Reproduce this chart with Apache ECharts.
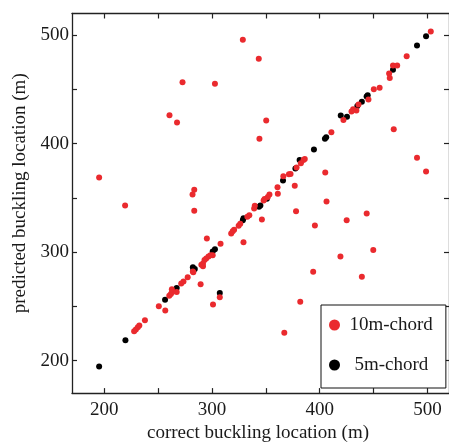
<!DOCTYPE html>
<html><head><meta charset="utf-8">
<script src="https://cdn.jsdelivr.net/npm/echarts@6/dist/echarts.min.js"></script>
<style>html,body{margin:0;padding:0;background:#fff}#c{width:449px;height:448px}</style>
</head><body><div id="c"></div>
<script>
const axisTicks = [200, 250, 300, 350, 400, 450, 500];
const axisLabels = [200, 300, 400, 500];
const seriesNames = ['10m-chord', '5m-chord'];

const chord10X = [272.6, 302.7, 260.5, 267.5, 195.2, 219.3, 283.5, 281.9, 283.5, 328.6, 343.4, 350.3, 344.0, 468.7, 490.3, 498.7, 405.1, 406.3, 443.6, 425.0, 395.5, 449.7, 419.2, 439.1, 393.9, 381.9, 367.1, 307.2, 300.9, 289.4, 256.6, 376.8, 378.0, 361.1, 346.3, 329.2, 307.9, 295.2,
  503.1, 480.7, 468.0, 471.9, 464.4, 465.0, 455.6, 450.2, 445.2, 436.0, 434.0, 431.0, 429.5, 422.0, 410.8,
  386.1, 384.9, 382.5, 378.5, 371.4, 372.9, 366.2, 360.8, 353.3, 351.8, 348.8, 347.9, 339.7, 339.1, 334.6, 332.8, 326.2, 324.7, 320.5, 319.2, 317.8,
  300.6, 298.5, 296.7, 294.6, 293.0, 291.6, 290.1, 291.6, 282.6, 282.2,
  277.4, 273.5, 271.4, 267.2, 260.3, 261.8, 263.0, 262.7, 250.6, 237.7, 227.7, 229.3, 231.1, 232.5];
const chord10Y = [456.5, 455.2, 426.2, 419.4, 368.7, 343.0, 357.5, 353.0, 338.2, 495.9, 478.2, 421.4, 404.5, 413.3, 387.1, 374.4, 373.5, 346.6, 335.5, 329.4, 324.6, 302.0, 295.9, 277.3, 282.0, 254.3, 225.7, 258.3, 251.6, 270.3, 246.2, 361.1, 337.6, 353.8, 330.0, 309.0, 307.7, 312.6,
  503.5, 480.5, 472.1, 472.1, 464.6, 460.6, 451.6, 450.1, 440.7, 436.2, 430.5, 431.7, 429.6, 421.7, 410.6,
  385.9, 385.0, 381.9, 378.0, 371.7, 372.0, 369.9, 359.9, 353.2, 350.9, 349.0, 347.5, 342.7, 340.3, 333.9, 332.5, 326.2, 324.3, 320.7, 319.2, 317.1,
  297.2, 297.2, 295.9, 294.1, 292.7, 289.6, 288.4, 286.9, 281.4, 282.1,
  276.9, 273.0, 271.0, 263.3, 259.7, 261.3, 263.3, 265.8, 250.1, 237.1, 227.1, 228.7, 230.8, 232.3];

const chord5X = [498.7, 490.3, 468.0, 444.5, 443.5, 439.1, 434.9, 425.3, 419.5, 406.0, 404.8, 394.6, 381.3, 377.4, 365.9, 350.9, 344.9, 343.6, 329.2, 328.6, 302.7, 300.6, 307.2, 282.6, 284.0, 282.2, 267.2, 256.4, 219.6, 195.2];
const chord5Y = [499.0, 490.5, 468.2, 444.7, 443.5, 438.6, 434.7, 424.8, 426.0, 406.0, 404.5, 394.6, 385.0, 377.1, 366.0, 349.3, 343.0, 341.8, 331.2, 329.4, 302.6, 300.5, 262.2, 283.0, 284.5, 286.0, 267.0, 256.1, 218.7, 194.6];

const FONT = 'Liberation Serif';
const INK = '#1a1a1a';
const pairs = (xs, ys) => xs.map((x, i) => [x, ys[i]]);

const chart = echarts.init(document.getElementById('c'), null, {renderer: 'canvas'});
const axisLineStyle = {show: true, lineStyle: {color: '#222', width: 1.3}};
const tickStyle = {show: true, inside: true, length: 5, customValues: axisTicks, lineStyle: {color: '#222', width: 1.2}};
chart.setOption({
  animation: false,
  backgroundColor: '#fff',
  grid: {left: 72, top: 13.5, width: 387, height: 387},
  xAxis: [
    {type: 'value', position: 'bottom', min: 170, max: 520,
     axisLine: axisLineStyle, axisTick: tickStyle, splitLine: {show: false},
     axisLabel: {customValues: axisLabels, margin: 7, fontFamily: FONT, fontSize: 19, color: INK},
     name: 'correct buckling location (m)', nameLocation: 'middle', nameGap: 28,
     nameTextStyle: {fontFamily: FONT, fontSize: 19, color: INK, padding: [0, 5, 0, 0]}},
    {type: 'value', position: 'top', min: 170, max: 520,
     axisLine: axisLineStyle, axisTick: tickStyle, splitLine: {show: false},
     axisLabel: {show: false}}
  ],
  yAxis: [
    {type: 'value', position: 'left', min: 170, max: 520,
     axisLine: axisLineStyle, axisTick: tickStyle, splitLine: {show: false},
     axisLabel: {customValues: axisLabels, margin: 3, fontFamily: FONT, fontSize: 19, color: INK},
     name: 'predicted buckling location (m)', nameLocation: 'middle', nameGap: 36,
     nameTextStyle: {fontFamily: FONT, fontSize: 19, color: INK, padding: [0, 0, 0, 20]}},
    {type: 'value', position: 'right', min: 170, max: 520,
     axisLine: axisLineStyle, axisTick: tickStyle, splitLine: {show: false},
     axisLabel: {show: false}}
  ],
  legend: {
    left: 321, top: 305, orient: 'vertical', icon: 'circle',
    padding: [10, 13, 13, 8], itemWidth: 20, itemHeight: 11, itemGap: 20,
    borderColor: '#111', borderWidth: 1, backgroundColor: '#fff',
    textStyle: {fontFamily: FONT, fontSize: 19, color: INK, lineHeight: 20},
    data: [{name: seriesNames[0]}, {name: seriesNames[1], textStyle: {padding: [0, 0, 0, 5]}}]
  },
  series: [
    {name: seriesNames[1], type: 'scatter', data: pairs(chord5X, chord5Y), symbolSize: 6,
     itemStyle: {color: '#000', opacity: 1}, emphasis: {disabled: true}},
    {name: seriesNames[0], type: 'scatter', data: pairs(chord10X, chord10Y), symbolSize: 6,
     itemStyle: {color: '#ea2a2e', opacity: 1}, emphasis: {disabled: true}}
  ]
});
</script>
</body></html>
